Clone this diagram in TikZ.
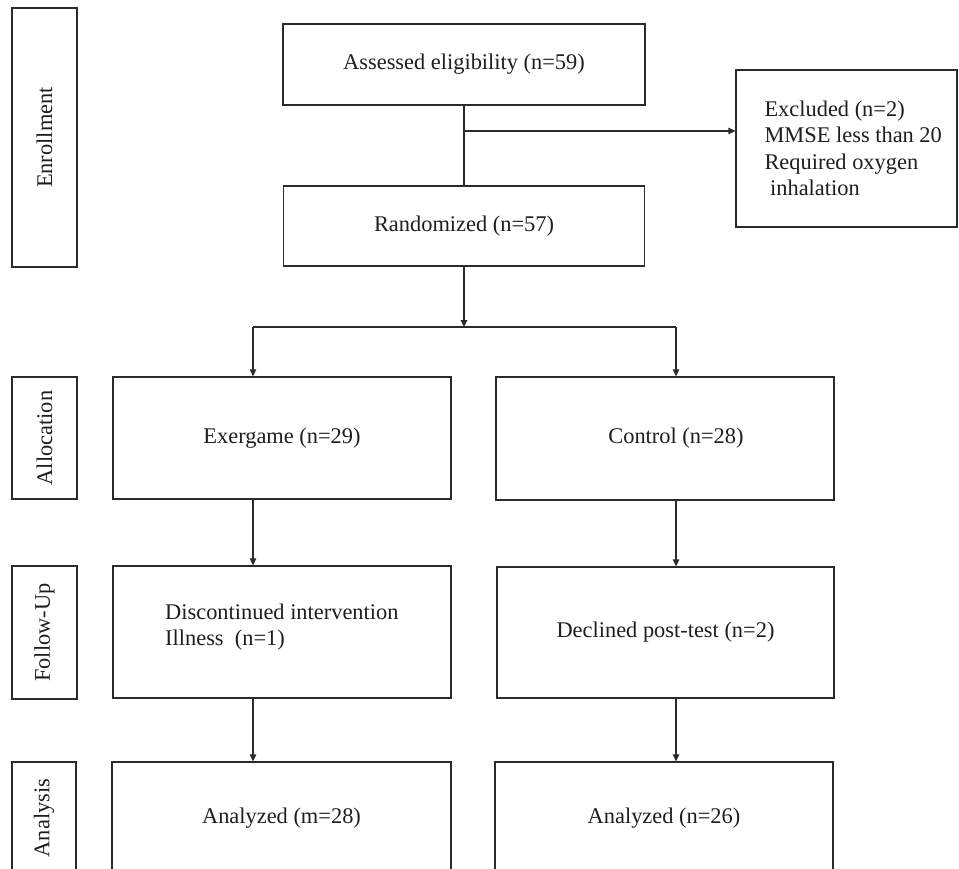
\documentclass[tikz,border=0pt]{standalone}
\usepackage{fontspec}
\setmainfont{Liberation Serif}
\usetikzlibrary{arrows.meta,calc}
\definecolor{ln}{HTML}{2B2B2B}
\definecolor{tx}{HTML}{1E1E1E}
\tikzset{
  x=1pt, y=-1pt,
  every node/.style={font=\fontsize{22.4pt}{26.5pt}\selectfont, text=tx},
  box/.style={draw=ln, line width=1.3pt, rectangle, inner sep=0pt, fill=white},
  lab/.style={box, rotate=90},
  conn/.style={draw=ln, line width=1.3pt},
  arr/.style={conn, -{Triangle[length=7pt,width=6.5pt]}},
  txt/.style={inner sep=0pt, align=left, anchor=west}
}
\begin{document}
\begin{tikzpicture}
\clip (0,0) rectangle (959,869);
\fill[white] (0,0) rectangle (959,869);
% stage labels
\node[lab, minimum width=259, minimum height=65] (enroll) at (44.5,137.5) {Enrollment};
\node[lab, minimum width=122, minimum height=65] (alloc) at (44.5,438) {Allocation};
\node[lab, minimum width=133, minimum height=65] (follow) at (44.5,632.5) {Follow-Up};
\node[lab, minimum width=112, minimum height=64] (anal) at (44,818) {Analysis};
% main boxes
\node[box, minimum width=362, minimum height=81] (assess) at (464,64.5) {Assessed eligibility (n=59)};
\node[box, minimum width=361, minimum height=80] (rand) at (464,226) {Randomized (n=57)};
\node[box, minimum width=221, minimum height=157] (excl) at (846.5,148.5) {};
\node[txt] (excltext) at ($(excl.west)+(29,0)$) {Excluded (n=2)\\MMSE less than 20\\Required oxygen\\\hspace*{0.25em}inhalation};
\node[box, minimum width=338, minimum height=122] (exer) at (282,438) {Exergame (n=29)};
\node[box, minimum width=338, minimum height=123] (ctrl) at (665,438.5) {\hspace*{22pt}Control (n=28)};
\node[box, minimum width=338, minimum height=132] (disc) at (282,632) {};
\node[txt] (disctext) at (165,627) {Discontinued intervention\\Illness\ \ (n=1)};
\node[box, minimum width=337, minimum height=131] (decl) at (665.5,632.5) {Declined post-test (n=2)};
\node[box, minimum width=339, minimum height=112] (an1) at (281.5,818) {Analyzed (m=28)};
\node[box, minimum width=338, minimum height=112] (an2) at (664,818) {Analyzed (n=26)};
% connectors
\coordinate (jx) at (464,131);
\coordinate (br) at (464,327);
\coordinate (bl) at (253,327);
\coordinate (brr) at (676,327);
\draw[conn] (assess.south) -- (rand.north);
\draw[arr] (jx) -- (jx -| excl.west);
\draw[arr] (rand.south) -- (br);
\draw[conn] (bl) -- (brr);
\draw[arr] (bl) -- (bl |- exer.north);
\draw[arr] (brr) -- (brr |- ctrl.north);
\draw[arr] (bl |- exer.south) -- (bl |- disc.north);
\draw[arr] (brr |- ctrl.south) -- (brr |- decl.north);
\draw[arr] (bl |- disc.south) -- (bl |- an1.north);
\draw[arr] (brr |- decl.south) -- (brr |- an2.north);
\end{tikzpicture}
\end{document}
